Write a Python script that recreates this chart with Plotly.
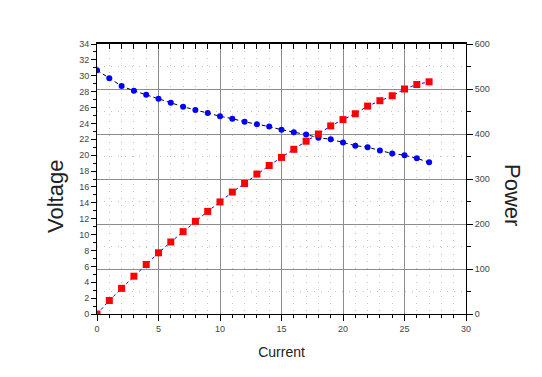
import plotly.graph_objects as go

current = list(range(0, 28))
voltage = [30.7, 29.7, 28.7, 28.1, 27.6, 27.1, 26.6, 26.1, 25.7, 25.3,
           24.9, 24.6, 24.2, 23.9, 23.6, 23.2, 22.9, 22.6, 22.2, 22.0,
           21.6, 21.2, 21.0, 20.6, 20.2, 20.0, 19.6, 19.1]
power = [0, 30, 57, 84, 110, 136, 160, 183, 206, 228,
         249, 271, 290, 311, 330, 348, 366, 384, 400, 418,
         432, 445, 462, 474, 485, 500, 510, 516]

FONT = "Liberation Sans, Arial, sans-serif"
GRID = "#8c8c8c"
MINOR = "#c4c4c4"

fig = go.Figure()
# invisible trace for the top frame axis
fig.add_trace(go.Scatter(x=[0, 30], y=[0, 34], mode="markers",
                         marker=dict(opacity=0), xaxis="x2", yaxis="y",
                         hoverinfo="skip", showlegend=False))
fig.add_trace(go.Scatter(
    x=current, y=voltage, mode="lines+markers", name="Voltage",
    line=dict(color="black", width=1, dash="4px,3px"),
    marker=dict(symbol="circle", size=6, color="#0000ff"),
    yaxis="y", xaxis="x"))
fig.add_trace(go.Scatter(
    x=current, y=power, mode="lines+markers", name="Power",
    line=dict(color="#0000ff", width=1, dash="3px,3px"),
    marker=dict(symbol="square", size=7, color="#ff0000"),
    yaxis="y2", xaxis="x"))

fig.update_layout(
    width=542, height=377,
    margin=dict(l=89, r=84, t=36, b=71, autoexpand=False),
    paper_bgcolor="white", plot_bgcolor="white",
    showlegend=False,
    font=dict(family=FONT, color="#333333", size=9),
    xaxis=dict(
        range=[0, 30], dtick=5, tick0=0, automargin=False,
        showline=True, linecolor="black", linewidth=1,
        ticks="outside", ticklen=6, tickcolor="black",
        showgrid=True, gridcolor=GRID, gridwidth=1.3,
        zeroline=False,
        minor=dict(dtick=1, ticks="outside", ticklen=3, tickcolor="black",
                   showgrid=True, gridcolor=MINOR, griddash="1px,6px", gridwidth=1),
        title=dict(text="Current", font=dict(size=14, color="#222222"), standoff=14),
        tickfont=dict(size=9, color="#444444"),
    ),
    xaxis2=dict(
        range=[0, 30], overlaying="x", side="top", anchor="y", automargin=False,
        showline=True, linecolor="black", linewidth=1.5,
        showticklabels=False, ticks="inside", ticklen=5, tickwidth=1, tickcolor="black",
        dtick=1, tick0=0, showgrid=False, zeroline=False,
    ),
    yaxis=dict(
        range=[0, 34], dtick=2, tick0=0, automargin=False,
        showline=True, linecolor="black", linewidth=1,
        ticks="outside", ticklen=5, tickcolor="black",
        showgrid=False, zeroline=False,
        minor=dict(dtick=1, ticks="outside", ticklen=3, tickcolor="black", showgrid=False),
        tickfont=dict(size=9, color="#444444"),
    ),
    yaxis2=dict(
        range=[0, 600], dtick=100, tick0=0, automargin=False,
        overlaying="y", side="right", anchor="x",
        showline=True, linecolor="black", linewidth=1,
        ticks="outside", ticklen=6, tickcolor="black",
        showgrid=True, gridcolor=GRID, gridwidth=1.3,
        zeroline=False,
        minor=dict(dtick=50, ticks="outside", ticklen=4, tickcolor="black",
                   showgrid=True, gridcolor=MINOR, griddash="1px,6px", gridwidth=1),
        tickfont=dict(size=9, color="#444444"),
    ),
    annotations=[
        dict(text="Voltage", xref="paper", yref="paper", x=0.0, y=0.5,
             xanchor="center", yanchor="middle", xshift=-42, yshift=-18,
             textangle=-90, showarrow=False,
             font=dict(family=FONT, size=22, color="#222222")),
        dict(text="Power", xref="paper", yref="paper", x=1.0, y=0.5,
             xanchor="center", yanchor="middle", xshift=47, yshift=-16,
             textangle=90, showarrow=False,
             font=dict(family=FONT, size=22, color="#222222")),
    ],
)

fig.write_html("out.html")
